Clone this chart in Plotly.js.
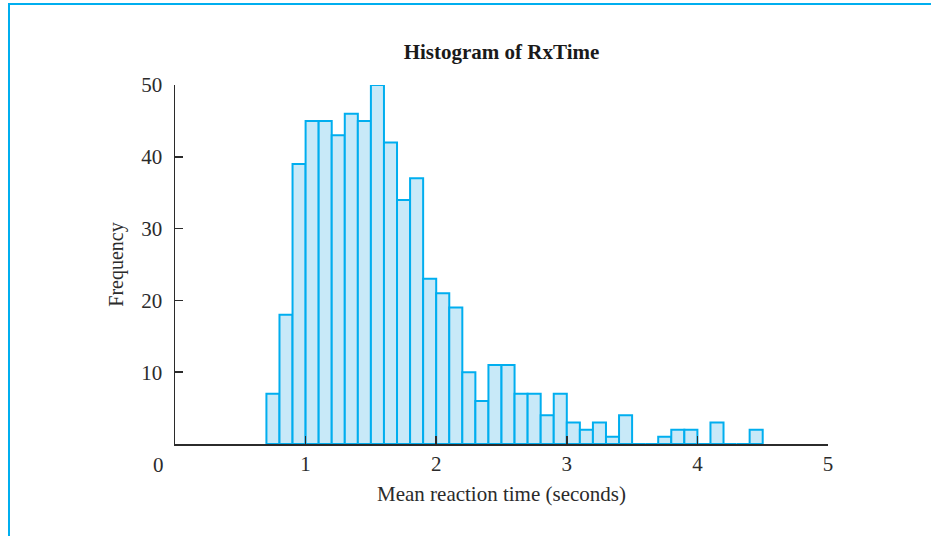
<!DOCTYPE html>
<html>
<head>
<meta charset="utf-8">
<script src="https://cdn.plot.ly/plotly-3.0.1.min.js"></script>
<style>
  html, body { margin: 0; padding: 0; background: #fff; }
  #wrap { position: relative; width: 931px; height: 536px; overflow: hidden; }
  #chart { position: absolute; left: 0; top: 0; width: 931px; height: 536px; }
  /* thin cyan frame along the top and left edges */
  #frame { position: absolute; left: 8px; top: 3px; right: -4px; bottom: -4px;
           border-top: 2px solid #00aeef; border-left: 2px solid #00aeef; pointer-events: none; }
</style>
</head>
<body>
<div id="wrap">
  <div id="chart"></div>
  <div id="frame"></div>
</div>
<script>
// Lower edge of each 0.1-second bin of mean reaction time
const binStarts = [0.7, 0.8, 0.9, 1.0, 1.1, 1.2, 1.3, 1.4, 1.5, 1.6,
                   1.7, 1.8, 1.9, 2.0, 2.1, 2.2, 2.3, 2.4, 2.5, 2.6,
                   2.7, 2.8, 2.9, 3.0, 3.1, 3.2, 3.3, 3.4, 3.5, 3.6,
                   3.7, 3.8, 3.9, 4.0, 4.1, 4.2, 4.3, 4.4];
// Frequency in each bin
const counts = [7, 18, 39, 45, 45, 43, 46, 45, 50, 42,
                34, 37, 23, 21, 19, 10, 6, 11, 11, 7,
                7, 4, 7, 3, 2, 3, 1, 4, 0, 0,
                1, 2, 2, 0, 3, 0, 0, 2];
const binWidth = 0.1;
const xTicks = [1, 2, 3, 4, 5];
const yTicks = [10, 20, 30, 40, 50];

const serif = 'Liberation Serif, Times New Roman, serif';
const ink = '#2b2b2b';

const trace = {
  type: 'bar',
  x: binStarts,
  y: counts,
  width: binWidth,
  offset: 0,
  marker: { color: '#c8e9f8', line: { color: '#00aeef', width: 2 } },
  hoverinfo: 'x+y'
};

const layout = {
  width: 931, height: 536,
  margin: { l: 175, r: 103, t: 85, b: 92 },
  paper_bgcolor: '#ffffff', plot_bgcolor: '#ffffff',
  showlegend: false,
  bargap: 0,
  font: { family: serif, size: 21, color: ink },
  title: { text: '<b>Histogram of RxTime</b>', xref: 'paper', x: 0.5, xanchor: 'center',
           y: 0.903, yanchor: 'middle',
           font: { family: serif, size: 21, color: '#1a1a1a' } },
  xaxis: {
    range: [0, 5], tickvals: xTicks, ticktext: xTicks.map(String),
    ticks: 'inside', ticklen: 8, tickwidth: 1.5, tickcolor: ink,
    showline: true, linecolor: ink, linewidth: 1.5, showgrid: false, zeroline: false,
    tickfont: { family: serif, size: 21, color: ink },
    title: { text: 'Mean reaction time (seconds)', standoff: 11, font: { family: serif, size: 21, color: ink } },
    automargin: false, fixedrange: true
  },
  yaxis: {
    range: [0, 50], tickvals: yTicks, ticktext: yTicks.map(String),
    ticks: 'inside', ticklen: 8, tickwidth: 1.5, tickcolor: ink,
    ticklabelstandoff: 7,
    showline: true, linecolor: ink, linewidth: 1.5, showgrid: false, zeroline: false,
    tickfont: { family: serif, size: 21, color: ink },
    title: { text: 'Frequency', standoff: 12, font: { family: serif, size: 20, color: ink } },
    automargin: false, fixedrange: true
  },
  annotations: [{
    // shared origin label
    x: 0, y: 0, xref: 'x', yref: 'y', text: '0', showarrow: false,
    xanchor: 'center', yanchor: 'top', xshift: -17, yshift: -7,
    font: { family: serif, size: 21, color: ink }
  }]
};

Plotly.newPlot('chart', [trace], layout, { displayModeBar: false, staticPlot: true });
</script>
</body>
</html>
